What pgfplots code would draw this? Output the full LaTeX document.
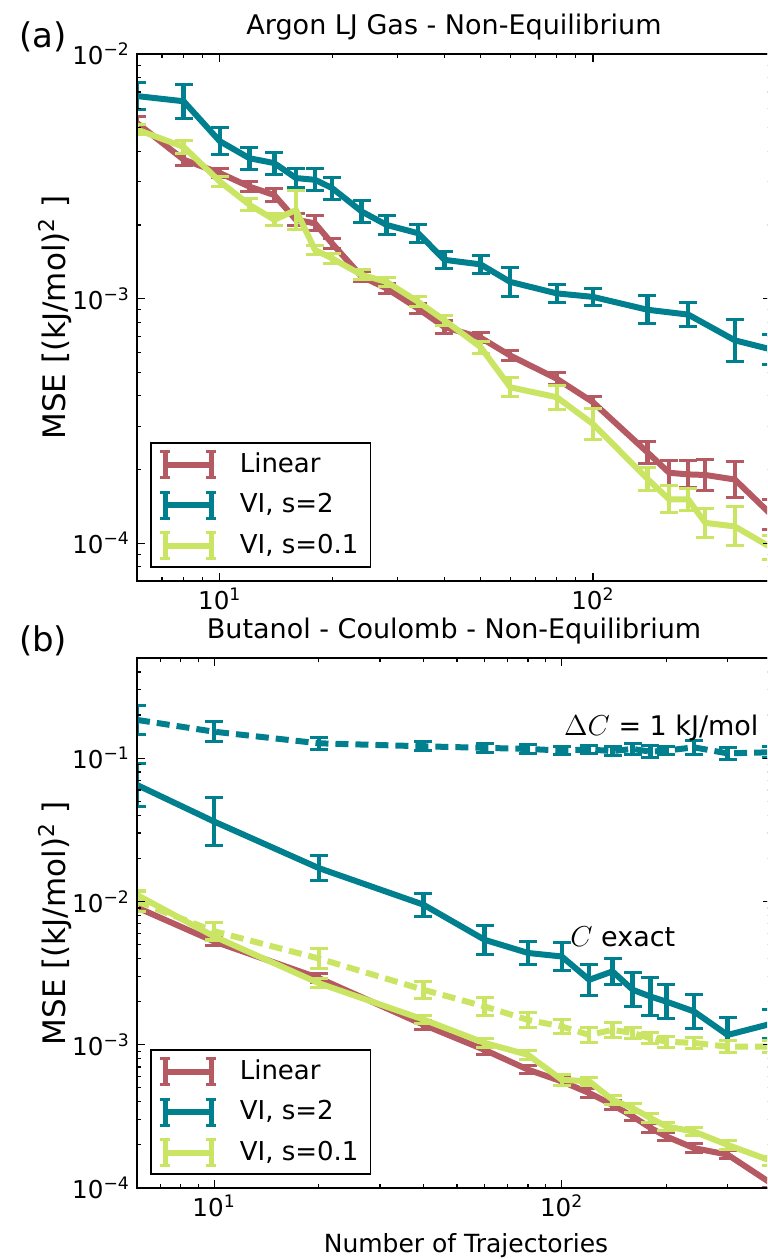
\documentclass[border=0pt]{standalone}
\usepackage{fontspec}
\setmainfont{DejaVu Sans}
\usepackage{pgfplots}
\pgfplotsset{compat=1.18}
\usepackage{pgfplotstable}

\definecolor{cLin}{RGB}{181,89,99}
\definecolor{cVI}{RGB}{0,128,143}
\definecolor{cVIs}{RGB}{202,228,100}

% ---------------- panel (a) ----------------
\pgfplotstableread{
x y ep em
6 5.22e-3 .064 .060
8 3.70e-3 .057 .054
10 3.26e-3 .047 .045
12 2.87e-3 .047 .045
14 2.65e-3 .059 .056
16 2.10e-3 .059 .056
18 2.03e-3 .072 .067
20 1.68e-3 .047 .045
24 1.23e-3 .047 .045
28 1.10e-3 .047 .045
34 9.1e-4 .047 .045
40 7.65e-4 .059 .056
50 6.92e-4 .047 .045
60 5.85e-4 .047 .045
80 4.70e-4 .059 .056
100 3.77e-4 .059 .056
140 2.35e-4 .109 .098
160 1.94e-4 .122 .109
180 1.91e-4 .135 .119
200 1.90e-4 .161 .139
240 1.82e-4 .189 .159
300 1.31e-4 .148 .129
}\aLin
\pgfplotstableread{
x y ep em
6 6.73e-3 .135 .119
8 6.41e-3 .175 .149
10 4.40e-3 .135 .119
12 3.75e-3 .109 .098
14 3.58e-3 .109 .098
16 3.11e-3 .091 .084
18 3.06e-3 .109 .098
20 2.83e-3 .109 .098
24 2.27e-3 .109 .098
28 2.00e-3 .096 .088
34 1.85e-3 .091 .084
40 1.44e-3 .084 .077
50 1.38e-3 .091 .084
60 1.17e-3 .143 .125
80 1.05e-3 .091 .084
100 1.016e-3 .084 .077
140 9.0e-4 .143 .125
180 8.6e-4 .122 .109
240 6.75e-4 .216 .178
300 6.2e-4 .148 .129
}\aVI
\pgfplotstableread{
x y ep em
6 4.91e-3 .047 .045
8 4.17e-3 .059 .056
10 3.01e-3 .047 .045
12 2.42e-3 .059 .056
14 2.10e-3 .059 .056
16 2.30e-3 .202 .168
18 1.58e-3 .047 .045
20 1.46e-3 .047 .045
24 1.25e-3 .047 .045
28 1.17e-3 .047 .045
34 9.7e-4 .047 .045
40 8.15e-4 .047 .045
50 6.33e-4 .059 .056
60 4.34e-4 .091 .084
80 3.95e-4 .122 .109
100 3.07e-4 .161 .139
140 1.83e-4 .117 .105
160 1.51e-4 .135 .119
180 1.51e-4 .109 .098
200 1.21e-4 .143 .125
240 1.17e-4 .202 .168
300 9.6e-5 .122 .109
}\aVIs

% ---------------- panel (b) ----------------
\pgfplotstableread{
x y ep em
6 9.08e-3 .072 .067
10 5.26e-3 .072 .067
20 2.92e-3 .072 .067
40 1.38e-3 .072 .067
60 9.2e-4 .072 .067
80 6.7e-4 .072 .067
100 5.55e-4 .072 .067
120 4.6e-4 .072 .067
140 3.81e-4 .072 .067
160 3.16e-4 .072 .067
180 2.63e-4 .072 .067
200 2.29e-4 .072 .067
240 1.9e-4 .072 .067
300 1.71e-4 .072 .067
400 1.08e-4 .072 .067
}\bLin
\pgfplotstableread{
x y ep em
6 0.065 .413 .292
10 0.0361 .479 .324
20 0.0171 .230 .187
40 9.5e-3 .202 .168
60 5.4e-3 .259 .206
80 4.37e-3 .202 .168
100 4.13e-3 .259 .206
120 2.84e-3 .288 .224
140 3.25e-3 .230 .187
160 2.42e-3 .318 .241
180 2.17e-3 .349 .259
200 2.0e-3 .318 .241
240 1.71e-3 .318 .241
300 1.17e-3 .318 .241
400 1.4e-3 .259 .206
}\bVI
\pgfplotstableread{
x y ep em
6 0.185 .259 .206
10 0.153 .175 .149
20 0.127 .096 .088
40 0.121 .072 .067
60 0.118 .072 .067
80 0.116 .072 .067
100 0.113 .072 .067
120 0.115 .072 .067
140 0.112 .072 .067
160 0.116 .096 .088
180 0.111 .096 .088
200 0.113 .072 .067
240 0.119 .122 .109
300 0.108 .096 .088
400 0.110 .096 .088
}\bVIdash
\pgfplotstableread{
x y ep em
6 0.0111 .072 .067
10 5.7e-3 .072 .067
20 2.69e-3 .072 .067
40 1.5e-3 .072 .067
60 1.03e-3 .072 .067
80 8.5e-4 .072 .067
100 5.7e-4 .096 .088
120 5.55e-4 .072 .067
140 4.13e-4 .072 .067
160 3.61e-4 .072 .067
180 3.08e-4 .072 .067
200 2.69e-4 .072 .067
240 2.48e-4 .072 .067
300 2.0e-4 .072 .067
400 1.55e-4 .072 .067
}\bVIs
\pgfplotstableread{
x y ep em
6 0.0100 .175 .149
10 6.2e-3 .148 .129
20 4.0e-3 .175 .149
40 2.42e-3 .148 .129
60 1.85e-3 .148 .129
80 1.49e-3 .122 .109
100 1.34e-3 .122 .109
120 1.17e-3 .122 .109
140 1.27e-3 .122 .109
160 1.21e-3 .096 .088
180 1.11e-3 .096 .088
200 1.05e-3 .096 .088
240 1.03e-3 .096 .088
300 9.7e-4 .096 .088
400 9.7e-4 .096 .088
}\bVIsdash

\newcommand{\logtick}{\pgfmathparse{int(round(\tick))}\ifnum\pgfmathresult<0 −\number-\pgfmathresult\else\pgfmathresult\fi}

\pgfplotsset{
  pl/.style={line width=3pt, line join=round,
    error bars/y dir=both, error bars/y explicit relative,
    error bars/error bar style={line width=2.2pt, solid},
    error bars/error mark options={line width=1.5pt, mark size=4.5pt, solid, rotate=90}},
  legend image code/.code={
    \draw[#1, line width=3pt, solid] (0pt,0pt) -- (23pt,0pt);
    \draw[#1, line width=2.2pt, solid] (0pt,-6.5pt) -- (0pt,6.5pt);
    \draw[#1, line width=2.2pt, solid] (23pt,-6.5pt) -- (23pt,6.5pt);
    \draw[#1, line width=1.5pt, solid] (-2.5pt,-6.5pt) -- (2.5pt,-6.5pt);
    \draw[#1, line width=1.5pt, solid] (-2.5pt,6.5pt) -- (2.5pt,6.5pt);
    \draw[#1, line width=1.5pt, solid] (20.5pt,-6.5pt) -- (25.5pt,-6.5pt);
    \draw[#1, line width=1.5pt, solid] (20.5pt,6.5pt) -- (25.5pt,6.5pt);
  }
}

\begin{document}
\begin{tikzpicture}
\path[use as bounding box] (0,0) rectangle (383.5pt,-629.5pt);
\clip (0,0) rectangle (383.5pt,-629.5pt);

\begin{axis}[
  scale only axis, width=317pt,
  xmode=log, ymode=log, log basis x=10, log basis y=10,
  xmin=6,
  xticklabel={10\textsuperscript{\logtick}},
  yticklabel={10\textsuperscript{\logtick}},
  axis on top,
  axis line style={line width=0.8pt},
  every tick/.style={black, line width=0.6pt},
  major tick length=4pt, minor tick length=2pt,
  tick label style={font=\fontsize{12.3}{14}\selectfont},
  title style={at={(0.5,1)}, anchor=base, yshift=4pt, font=\fontsize{13.5}{16}\selectfont},
  ylabel style={at={(axis description cs:-0.129,0.5)}, rotate=0, anchor=center, font=\fontsize{15.5}{18}\selectfont},
  ylabel={MSE [(kJ/mol)\textsuperscript{2} ]},
  legend cell align=left,
  legend style={at={(0,0)}, anchor=south west, xshift=6.5pt, yshift=6.5pt,
    draw=black, line width=0.8pt, fill=white,
    font=\fontsize{13}{15}\selectfont,
    inner xsep=4pt, inner ysep=3pt, row sep=4.5pt, column sep=9pt,
    nodes={inner sep=2pt, text depth=0.2em}},
  at={(68.5pt,-27pt)}, anchor=north west,
  height=263.5pt, xmax=300, ymin=7e-5, ymax=1e-2,
  title={Argon LJ Gas - Non-Equilibrium}]
\addplot[pl, color=cLin] table[x=x, y=y, y error plus=ep, y error minus=em] {\aLin};
\addlegendentry{Linear}
\addplot[pl, color=cVI] table[x=x, y=y, y error plus=ep, y error minus=em] {\aVI};
\addlegendentry{VI, s=2}
\addplot[pl, color=cVIs] table[x=x, y=y, y error plus=ep, y error minus=em] {\aVIs};
\addlegendentry{VI, s=0.1}
\end{axis}

\begin{axis}[
  scale only axis, width=317pt,
  xmode=log, ymode=log, log basis x=10, log basis y=10,
  xmin=6,
  xticklabel={10\textsuperscript{\logtick}},
  yticklabel={10\textsuperscript{\logtick}},
  axis on top,
  axis line style={line width=0.8pt},
  every tick/.style={black, line width=0.6pt},
  major tick length=4pt, minor tick length=2pt,
  tick label style={font=\fontsize{12.3}{14}\selectfont},
  title style={at={(0.5,1)}, anchor=base, yshift=4pt, font=\fontsize{13.5}{16}\selectfont},
  ylabel style={at={(axis description cs:-0.129,0.5)}, rotate=0, anchor=center, font=\fontsize{15.5}{18}\selectfont},
  xlabel style={at={(axis description cs:0.519,-0.108)}, anchor=center, font=\fontsize{12.5}{15}\selectfont},
  ylabel={MSE [(kJ/mol)\textsuperscript{2} ]},
  legend cell align=left,
  legend style={at={(0,0)}, anchor=south west, xshift=6.5pt, yshift=6.5pt,
    draw=black, line width=0.8pt, fill=white,
    font=\fontsize{13}{15}\selectfont,
    inner xsep=4pt, inner ysep=3pt, row sep=4.5pt, column sep=9pt,
    nodes={inner sep=2pt, text depth=0.2em}},
  at={(68.5pt,-329pt)}, anchor=north west,
  height=265pt, xmax=400, ymin=1e-4, ymax=0.5,
  title={Butanol - Coulomb - Non-Equilibrium},
  xlabel={Number of Trajectories}]
\addplot[pl, color=cLin] table[x=x, y=y, y error plus=ep, y error minus=em] {\bLin};
\addlegendentry{Linear}
\addplot[pl, color=cVI] table[x=x, y=y, y error plus=ep, y error minus=em] {\bVI};
\addlegendentry{VI, s=2}
\addplot[pl, color=cVIs] table[x=x, y=y, y error plus=ep, y error minus=em] {\bVIs};
\addlegendentry{VI, s=0.1}
\addplot[pl, color=cVI, dash pattern=on 6.5pt off 3.5pt, forget plot] table[x=x, y=y, y error plus=ep, y error minus=em] {\bVIdash};
\addplot[pl, color=cVIs, dash pattern=on 6.5pt off 3.5pt, forget plot] table[x=x, y=y, y error plus=ep, y error minus=em] {\bVIsdash};
\node[anchor=west, font=\fontsize{13.5}{16}\selectfont] at (axis cs:97,0.162) {$\Delta C$ = 1 kJ/mol};
\node[anchor=west, font=\fontsize{13.5}{16}\selectfont] at (axis cs:101,5.65e-3) {$C$ exact};
\end{axis}

\node[anchor=base west, font=\fontsize{17}{20}\selectfont] at (6pt,-23.5pt) {(a)};
\node[anchor=base west, font=\fontsize{17}{20}\selectfont] at (6pt,-325.5pt) {(b)};
\end{tikzpicture}
\end{document}
